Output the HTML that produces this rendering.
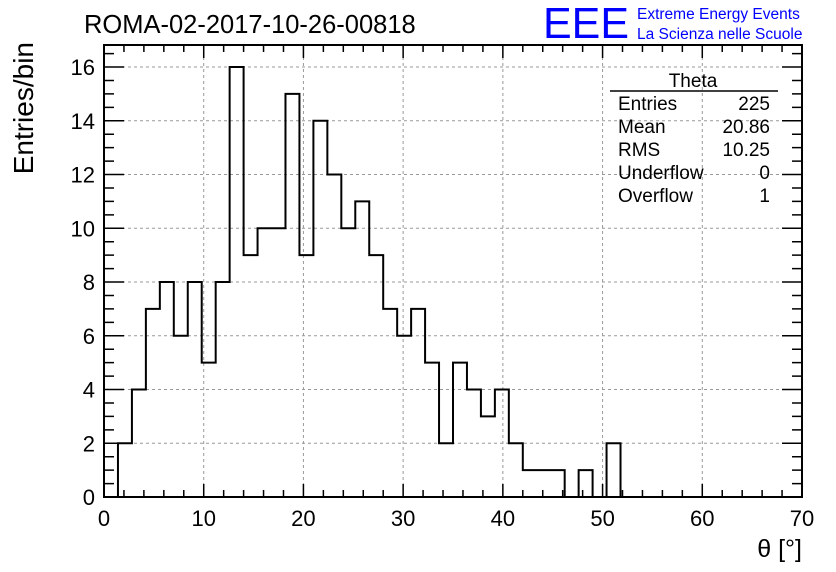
<!DOCTYPE html>
<html><head><meta charset="utf-8"><style>
body{margin:0;background:#fff;}
svg{display:block;font-family:"Liberation Sans",sans-serif;}
</style></head><body>
<svg id="chart" width="836" height="572" xmlns="http://www.w3.org/2000/svg">
<rect width="836" height="572" fill="#fff"/>
<text x="84" y="33" font-size="25.5">ROMA-02-2017-10-26-00818</text>
<text x="543" y="38" font-size="44" fill="#0000ff" textLength="86" lengthAdjust="spacingAndGlyphs">EEE</text>
<text x="637" y="19" font-size="15.5" fill="#0000ff">Extreme Energy Events</text>
<text x="637" y="39" font-size="15.5" fill="#0000ff">La Scienza nelle Scuole</text>
<g id="grid"></g>
<g id="hist"></g>
<g id="axes"></g>
<text x="33" y="42" font-size="28" transform="rotate(-90 33 42)" text-anchor="end">Entries/bin</text>
<text x="802" y="557" font-size="25" text-anchor="end">θ [°]</text>
<g font-size="19">
<text x="693" y="87" text-anchor="middle">Theta</text>
<line x1="610" y1="91" x2="778" y2="91" stroke="#000" stroke-width="1.5"/>
<text x="618" y="110">Entries</text><text x="770" y="110" text-anchor="end">225</text>
<text x="618" y="133">Mean</text><text x="770" y="133" text-anchor="end">20.86</text>
<text x="618" y="156">RMS</text><text x="770" y="156" text-anchor="end">10.25</text>
<text x="618" y="179">Underflow</text><text x="770" y="179" text-anchor="end">0</text>
<text x="618" y="202">Overflow</text><text x="770" y="202" text-anchor="end">1</text>
</g>
</svg>
<script>
const binWidth = 1.4;
const counts = [0,2,4,7,8,6,8,5,8,16,9,10,10,15,9,14,12,10,11,9,7,6,7,5,2,5,4,3,4,2,1,1,1,0,1,0,2,0,0,0,0,0,0,0,0,0,0,0,0,0];
const xTicks = [0,10,20,30,40,50,60,70];
const yTicks = [0,2,4,6,8,10,12,14,16];
const X0=104,X1=802,Y0=497,Y1=45,XMAX=70,YMAX=16.82;
const sx=v=>X0+v/XMAX*(X1-X0);
const sy=v=>Y0-v/YMAX*(Y0-Y1);
const NS="http://www.w3.org/2000/svg";
function mk(tag,attrs,parent){const e=document.createElementNS(NS,tag);for(const k in attrs)e.setAttribute(k,attrs[k]);parent.appendChild(e);return e;}
const grid=document.getElementById('grid'),axes=document.getElementById('axes'),hist=document.getElementById('hist');
xTicks.forEach(t=>{
  if(t>0&&t<XMAX){const l=mk('line',{x1:sx(t),x2:sx(t),y1:Y1,y2:Y0,stroke:'#999','stroke-dasharray':'3,3','stroke-width':1},grid);
  
  }
  const tx=mk('text',{x:sx(t),y:Y0+29,'font-size':22,'text-anchor':'middle'},axes);tx.textContent=t;
  
  
});
yTicks.forEach(t=>{
  if(t>0){const l=mk('line',{x1:X0,x2:X1,y1:sy(t),y2:sy(t),stroke:'#999','stroke-dasharray':'3,3','stroke-width':1},grid);
  
  }
  const tx=mk('text',{x:X0-9,y:sy(t)+8,'font-size':22,'text-anchor':'end'},axes);tx.textContent=t;
  
  
});
let d='M'+sx(0)+','+sy(0);
counts.forEach((c,i)=>{d+=' L'+sx(i*binWidth)+','+sy(c)+' L'+sx((i+1)*binWidth)+','+sy(c);});
const p=mk('path',{d:d,fill:'none',stroke:'#000','stroke-width':2},hist);


const fr=mk('rect',{x:X0,y:Y1,width:X1-X0,height:Y0-Y1,fill:'none',stroke:'#000','stroke-width':2},axes);


let td='';
for(let v=0;v<=XMAX+0.001;v+=2){const L=(v%10===0)?13:7;const x=sx(v);td+=`M${x},${Y0}v${-L}M${x},${Y1}v${L}`;}
for(let v=0;v<=YMAX;v+=0.5){const L=(Math.abs(v%2)<0.01)?20:10;const y=sy(v);td+=`M${X0},${y}h${L}M${X1},${y}h${-L}`;}
const tk=mk('path',{d:td,stroke:'#000','stroke-width':1.5,fill:'none'},axes);


</script>
</body></html>
